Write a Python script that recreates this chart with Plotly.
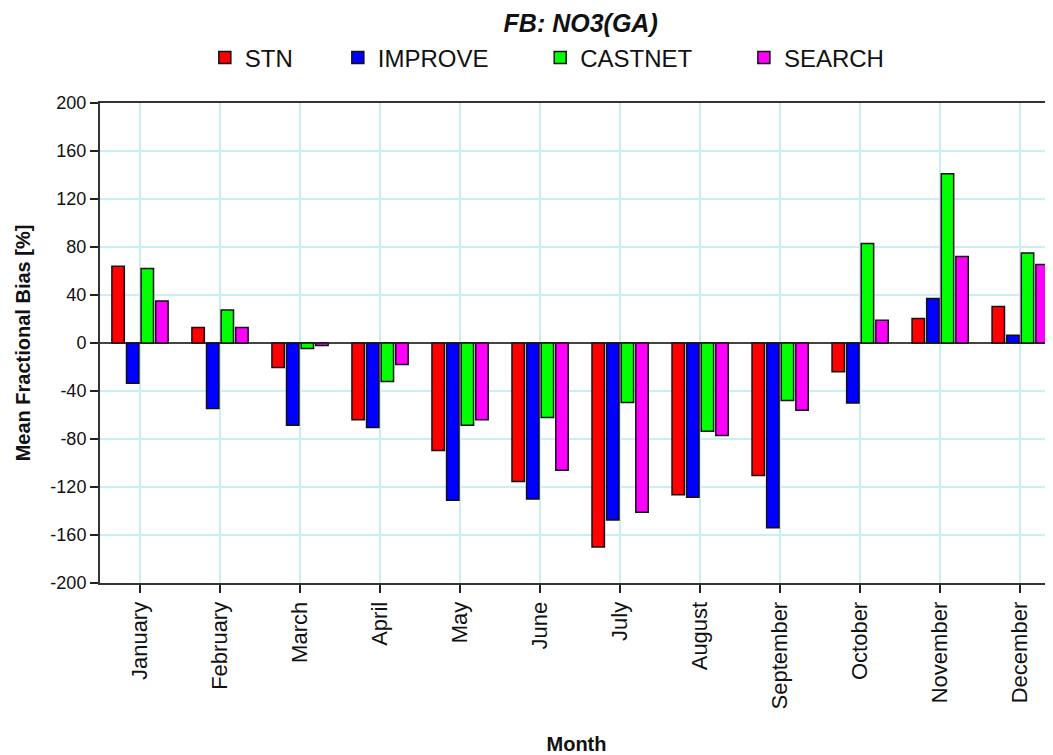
"""
FB: NO3(GA) 月均分数偏差柱状图
"""

import plotly.graph_objects as go

months = [
    "January", "February", "March", "April", "May", "June",
    "July", "August", "September", "October", "November", "December",
]

# 各监测网络月均分数偏差 (%)
stn = [64, 13, -20.5, -64, -89.5, -115.5, -170, -126.5, -110.5, -24, 20.5, 30.5]
improve = [-33.5, -54.5, -68.5, -70.5, -131, -130, -147.5, -128.5, -154, -50, 37, 6.5]
castnet = [62, 27.5, -4.5, -32, -68.5, -62, -49.5, -73.5, -48, 83, 141, 75]
search = [35, 13, -2, -18, -64, -106, -141, -77, -56, 19, 72, 65.5]

y_ticks = [200, 160, 120, 80, 40, 0, -40, -80, -120, -160, -200]
y_tick_labels = ["200", "160", "120", "80", "40", "0", "-40", "-80", "-120", "-160", "-200"]

FONT = "Liberation Sans, Arial, sans-serif"
NB = "\u00a0"

series = [
    ("STN" + NB * 6, stn, "#ff0000"),
    ("IMPROVE" + NB * 7, improve, "#0000ff"),
    ("CASTNET" + NB * 7, castnet, "#00ff00"),
    ("SEARCH", search, "#ff00ff"),
]

fig = go.Figure()
for name, vals, color in series:
    fig.add_trace(
        go.Bar(
            x=months, y=vals, name=name,
            marker=dict(color=color, line=dict(color="#111111", width=1.5)),
        )
    )

fig.update_xaxes(
    range=[-0.5, 11.41],
    automargin=False,
    tickangle=-90,
    tickfont=dict(size=22, color="#111111", family=FONT),
    ticks="outside", ticklen=8, tickwidth=1.5, tickcolor="#222222",
    showgrid=True, gridcolor="#c8f0f2", gridwidth=1.5,
    showline=True, linecolor="#333333", linewidth=2, mirror=True,
    title=dict(text="<b>Month</b>", font=dict(size=20, color="#111111", family=FONT),
               standoff=34),
)
fig.update_yaxes(
    range=[-200, 200],
    automargin=False,
    tickvals=y_ticks, ticktext=y_tick_labels,
    tickfont=dict(size=18, color="#111111", family=FONT),
    ticks="outside", ticklen=8, tickwidth=1.5, tickcolor="#222222",
    showgrid=True, gridcolor="#c8f0f2", gridwidth=1.5,
    zeroline=True, zerolinecolor="#444444", zerolinewidth=2,
    showline=True, linecolor="#333333", linewidth=2,
    title=dict(text="<b>Mean Fractional Bias [%]</b>",
               font=dict(size=20, color="#111111", family=FONT), standoff=14),
)

# 页面 body 自带 8px 边距, 图幅相应缩小
fig.update_layout(
    width=1045, height=747,
    barmode="group", bargap=0.27, bargroupgap=0.15,
    plot_bgcolor="white", paper_bgcolor="white",
    font=dict(family=FONT, color="#111111"),
    title=dict(text="<b><i>FB: NO3(GA)</i></b>", font=dict(size=25, family=FONT),
               x=0.548, xanchor="center", y=0.979, yanchor="middle"),
    legend=dict(
        orientation="h", x=0.110, xanchor="left", y=1.094, yanchor="middle",
        font=dict(size=24, family=FONT), bgcolor="rgba(0,0,0,0)",
    ),
    margin=dict(l=92, r=0, t=95, b=172),
    showlegend=True,
)

fig.write_html("out.html")
